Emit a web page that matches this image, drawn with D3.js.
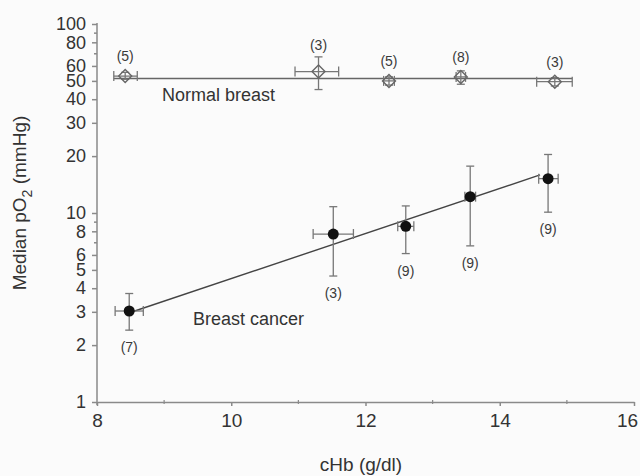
<!DOCTYPE html>
<html>
<head>
<meta charset="utf-8">
<script src="https://cdn.jsdelivr.net/npm/d3@7"></script>
<style>
  body { margin: 0; background: #fbfbfb; }
  svg { display: block; font-family: "Liberation Sans", Arial, sans-serif; }
</style>
</head>
<body>
<main></main>
<script>
// x axis / y axis ticks
const xMajor = [8, 10, 12, 14, 16]
const xMinor = [9, 11, 13, 15]
const yLabels = [1, 2, 3, 4, 5, 6, 8, 10, 20, 30, 40, 50, 60, 80, 100]
const yMinor = [7, 9, 70, 90]

// Normal breast (open diamonds)
const normalX = [8.42, 11.3, 12.35, 13.42, 14.82]
const normalY = [53, 56, 50, 52.5, 49.5]
const normalXLo = [8.25, 10.95, 12.27, 13.35, 14.55]
const normalXHi = [8.6, 11.6, 12.43, 13.49, 15.08]
const normalYLo = [51, 45, 47.5, 48, 47]
const normalYHi = [55.5, 67, 52.5, 56.5, 52]
const normalN = [5, 3, 5, 8, 3]
const normalFit = [[8.25, 51.5], [15.08, 51.5]]

// Breast cancer (filled circles)
const cancerX = [8.48, 11.52, 12.6, 13.56, 14.72]
const cancerY = [3.03, 7.74, 8.5, 12.2, 15.2]
const cancerXLo = [8.27, 11.22, 12.48, 13.48, 14.58]
const cancerXHi = [8.69, 11.82, 12.72, 13.64, 14.87]
const cancerYLo = [2.4, 4.64, 6.1, 6.7, 10.1]
const cancerYHi = [3.75, 10.8, 10.9, 17.7, 20.4]
const cancerN = [7, 3, 9, 9, 9]
const cancerFit = [[8.55, 3.02], [14.6, 15.9]]

const axisCol = '#8a8a8a'
const textCol = '#333'

const svg = d3.select('main')
  .append('svg')
  .attr('width', 640)
  .attr('height', 476)

const x = d3.scaleLinear().domain([8, 16]).range([97, 634])
const y = d3.scaleLog().domain([1, 100]).range([402, 24])

// x axis
const gx = svg.append('g')
  .attr('transform', 'translate(0,' + y(1) + ')')
  .call(d3.axisBottom(x).tickValues(xMajor).tickSize(4).tickPadding(8).tickSizeOuter(0).tickFormat(d3.format('d')))
gx.selectAll('.tick text').style('font-size', '19px').attr('fill', textCol)
  .attr('dx', d => d === 16 ? -7 : 0)
gx.selectAll('line, path').attr('stroke', axisCol).attr('stroke-width', 1.5)
gx.selectAll('.minor')
  .data(xMinor)
  .enter()
  .append('line')
  .attr('x1', d => x(d)).attr('x2', d => x(d))
  .attr('y1', -2).attr('y2', 2)
  .attr('stroke', axisCol).attr('stroke-width', 1.2)

// y axis
const yTicks = d3.range(1, 10).concat(d3.range(10, 101, 10))
const gy = svg.append('g')
  .attr('transform', 'translate(' + x(8) + ',0)')
  .call(d3.axisLeft(y).tickValues(yTicks).tickSize(5).tickPadding(6).tickSizeOuter(0)
    .tickFormat(d => yLabels.includes(d) ? d : ''))
gy.selectAll('.tick text').style('font-size', '18px').attr('fill', textCol)
gy.selectAll('line, path').attr('stroke', axisCol).attr('stroke-width', 1.5)
gy.selectAll('.tick line').attr('x2', d => yMinor.includes(d) ? -3 : -5)
gy.select('.domain').attr('d', 'M0,' + (y(100) - 1) + 'V' + (y(1) + 3))

// axis titles
svg.append('text')
  .attr('x', 361).attr('y', 471)
  .attr('text-anchor', 'middle')
  .style('font-size', '19px').attr('fill', textCol)
  .text('cHb (g/dl)')
const yt = svg.append('text')
  .attr('transform', 'translate(26,203) rotate(-90)')
  .attr('text-anchor', 'middle')
  .style('font-size', '19px').attr('fill', textCol)
yt.append('tspan').text('Median pO')
yt.append('tspan').text('2').attr('dy', 6).style('font-size', '14px')
yt.append('tspan').text(' (mmHg)').attr('dy', -6)

// fit lines
const line = d3.line().x(d => x(d[0])).y(d => y(d[1]))
svg.append('path').attr('d', line(normalFit)).attr('fill', 'none').attr('stroke', '#666').attr('stroke-width', 1.6)
svg.append('path').attr('d', line(cancerFit)).attr('fill', 'none').attr('stroke', '#444').attr('stroke-width', 1.4)

// error bars
function errorBars (xs, ys, xlo, xhi, ylo, yhi, col) {
  const g = svg.append('g').attr('stroke', col).attr('stroke-width', 1.3).attr('fill', 'none')
  xs.forEach((v, i) => {
    g.append('line').attr('x1', x(xlo[i])).attr('x2', x(xhi[i])).attr('y1', y(ys[i])).attr('y2', y(ys[i]))
    g.append('line').attr('x1', x(xlo[i])).attr('x2', x(xlo[i])).attr('y1', y(ys[i]) - 5).attr('y2', y(ys[i]) + 5)
    g.append('line').attr('x1', x(xhi[i])).attr('x2', x(xhi[i])).attr('y1', y(ys[i]) - 5).attr('y2', y(ys[i]) + 5)
    g.append('line').attr('x1', x(v)).attr('x2', x(v)).attr('y1', y(ylo[i])).attr('y2', y(yhi[i]))
    g.append('line').attr('x1', x(v) - 4).attr('x2', x(v) + 4).attr('y1', y(ylo[i])).attr('y2', y(ylo[i]))
    g.append('line').attr('x1', x(v) - 4).attr('x2', x(v) + 4).attr('y1', y(yhi[i])).attr('y2', y(yhi[i]))
  })
}
errorBars(normalX, normalY, normalXLo, normalXHi, normalYLo, normalYHi, '#777')
errorBars(cancerX, cancerY, cancerXLo, cancerXHi, cancerYLo, cancerYHi, '#777')

// normal breast markers: open diamonds with cross
svg.selectAll('.diamond')
  .data(normalX)
  .enter()
  .append('path')
  .attr('class', 'diamond')
  .attr('transform', (d, i) => 'translate(' + x(d) + ',' + y(normalY[i]) + ')')
  .attr('d', 'M0,-6.5L6.5,0L0,6.5L-6.5,0Z')
  .attr('fill', 'none')
  .attr('stroke', '#666')
  .attr('stroke-width', 1.4)

// breast cancer markers
svg.selectAll('.dot')
  .data(cancerX)
  .enter()
  .append('circle')
  .attr('class', 'dot')
  .attr('cx', d => x(d))
  .attr('cy', (d, i) => y(cancerY[i]))
  .attr('r', 5.5)
  .attr('fill', '#111')

// n labels
svg.selectAll('.nlab')
  .data(normalX)
  .enter()
  .append('text')
  .attr('x', d => x(d))
  .attr('y', (d, i) => Math.min(y(normalY[i]) - 20, y(normalYHi[i]) - 12) + 5)
  .attr('text-anchor', 'middle')
  .style('font-size', '14px').attr('fill', '#3a3a3a')
  .text((d, i) => '(' + normalN[i] + ')')
svg.selectAll('.clab')
  .data(cancerX)
  .enter()
  .append('text')
  .attr('x', d => x(d))
  .attr('y', (d, i) => y(cancerYLo[i]) + 22)
  .attr('text-anchor', 'middle')
  .style('font-size', '14px').attr('fill', '#3a3a3a')
  .text((d, i) => '(' + cancerN[i] + ')')

// group labels
svg.append('text').attr('x', 162).attr('y', 101)
  .style('font-size', '18px').attr('fill', textCol).text('Normal breast')
svg.append('text').attr('x', 193).attr('y', 325)
  .style('font-size', '18px').attr('fill', textCol).text('Breast cancer')
</script>
</body>
</html>
